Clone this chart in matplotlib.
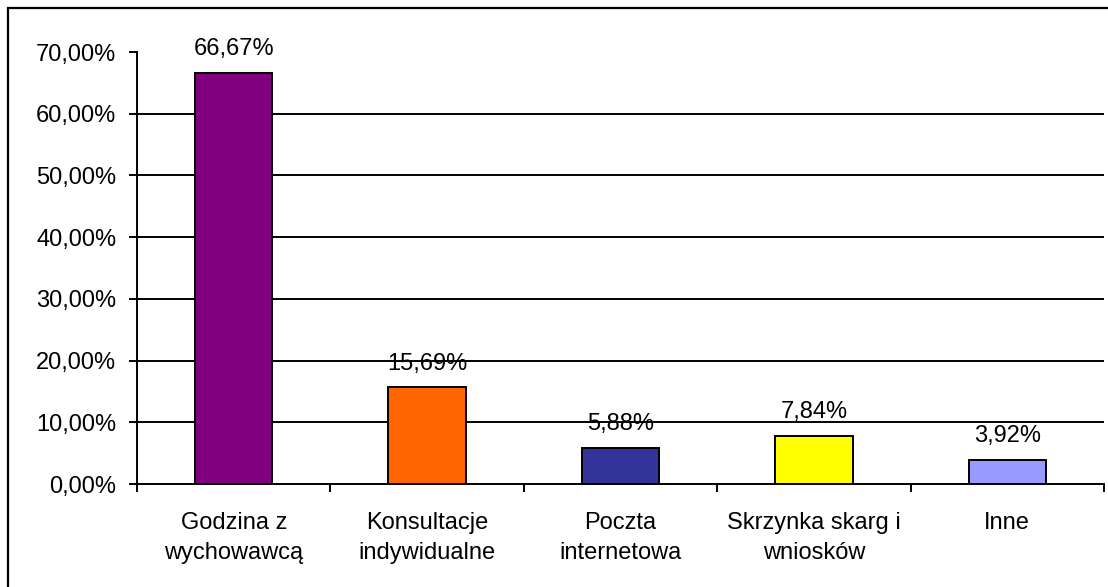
import matplotlib
matplotlib.use("Agg")
import matplotlib.pyplot as plt
from matplotlib.patches import Rectangle

categories = ["Godzina z\nwychowawcą", "Konsultacje\nindywidualne", "Poczta\ninternetowa",
              "Skrzynka skarg i\nwniosków", "Inne"]
values = [66.67, 15.69, 5.88, 7.84, 3.92]
value_labels = ["66,67%", "15,69%", "5,88%", "7,84%", "3,92%"]
colors = ["#800080", "#FF6600", "#333399", "#FFFF00", "#9999FF"]
yticks = [0, 10, 20, 30, 40, 50, 60, 70]
ytick_labels = ["0,00%", "10,00%", "20,00%", "30,00%", "40,00%", "50,00%", "60,00%", "70,00%"]

plt.rcParams['font.family'] = ['Liberation Sans', 'DejaVu Sans']
FS = 17
W, H = 1108, 587
fig = plt.figure(figsize=(W / 100, H / 100), dpi=100)
ax = fig.add_axes([137 / W, 1 - 484 / H, (1104 - 137) / W, (484 - 52) / H])

x = list(range(len(categories)))
ax.bar(x, values, width=0.40, color=colors, edgecolor="black", linewidth=1.4, zorder=3)

for xi, v, lab in zip(x, values, value_labels):
    ax.annotate(lab, (xi, v), xytext=(0, 9), textcoords="offset points",
                ha="center", va="bottom", fontsize=FS, color="black")

ax.set_xlim(-0.5, len(categories) - 0.5)
ax.set_ylim(0, 70)
ax.set_yticks(yticks)
ax.set_yticklabels(ytick_labels, fontsize=FS)
ax.set_xticks([i - 0.5 for i in range(len(categories) + 1)])
ax.set_xticklabels([])
ax.set_xticks(x, minor=True)
ax.set_xticklabels(categories, minor=True, fontsize=FS, linespacing=1.5)
ax.tick_params(axis="x", which="minor", length=0, pad=20)
ax.tick_params(axis="x", which="major", length=6, width=1.4, direction="out")
ax.tick_params(axis="y", length=6, width=1.4, direction="out", pad=9)

for g in yticks[1:-1]:
    ax.axhline(g, color="black", linewidth=1.4, zorder=1)

for s in ["top", "right"]:
    ax.spines[s].set_visible(False)
for s in ["left", "bottom"]:
    ax.spines[s].set_linewidth(1.4)

fig.patches.append(Rectangle((8 / W, -0.05), 1.2, 1 - 8 / H + 0.05, transform=fig.transFigure,
                             fill=False, edgecolor="black", linewidth=1.6))

fig.savefig("out.png", dpi=100)
